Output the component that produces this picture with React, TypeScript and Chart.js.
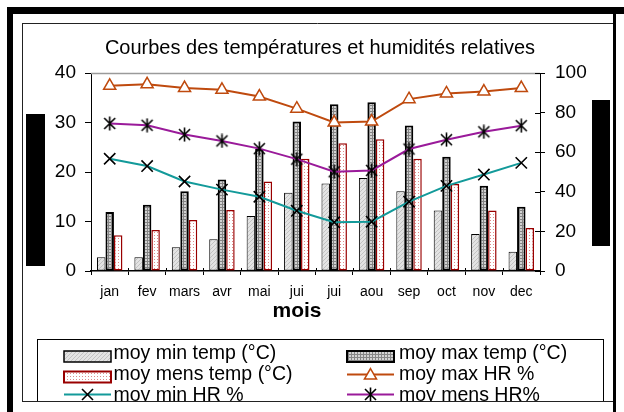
import React, { useEffect, useRef } from 'react';
import { Chart, registerables } from 'chart.js';
Chart.register(...registerables);

const titleText = 'Courbes des températures et humidités relatives';
const xTitle = 'mois';
const months = ['jan', 'fev', 'mars', 'avr', 'mai', 'jui', 'jui', 'aou', 'sep', 'oct', 'nov', 'dec'];
const minTemp = [2.8, 2.8, 4.8, 6.4, 11.1, 15.8, 17.7, 18.8, 16.1, 12.2, 7.5, 3.9];
const maxTemp = [11.9, 13.4, 16.1, 18.5, 24.7, 30.2, 33.7, 34.1, 29.4, 23.1, 17.2, 13.0];
const mensTemp = [7.2, 8.3, 10.3, 12.3, 18.1, 22.7, 25.8, 26.6, 22.7, 17.6, 12.2, 8.7];
const maxHR = [93.5, 94.3, 92.4, 91.5, 88.1, 82.0, 75.0, 75.5, 86.8, 89.7, 90.6, 92.4];
const minHR = [56.7, 53.0, 45.2, 41.1, 37.5, 30.4, 24.6, 24.9, 35.0, 43.0, 48.7, 54.6];
const mensHR = [74.5, 73.6, 68.9, 65.7, 61.8, 56.5, 50.1, 50.8, 61.6, 66.3, 70.3, 73.4];
const labels = ['moy min temp (°C)', 'moy max temp (°C)', 'moy mens temp (°C)', 'moy max HR %', 'moy min HR %', 'moy mens HR%'];

const FONT = '"Liberation Sans", Arial, sans-serif';
const ORANGE = '#bf4a0e';
const TEAL = '#139a9a';
const PURPLE = '#9a1a9a';
const DARKRED = '#990000';

function makePattern(size: number, draw: (g: CanvasRenderingContext2D) => void): CanvasPattern {
  const c = document.createElement('canvas');
  c.width = size; c.height = size;
  const g = c.getContext('2d') as CanvasRenderingContext2D;
  draw(g);
  return g.createPattern(c, 'repeat') as CanvasPattern;
}

function makeAsterisk(): HTMLCanvasElement {
  const c = document.createElement('canvas');
  c.width = 15; c.height = 15;
  const g = c.getContext('2d') as CanvasRenderingContext2D;
  g.strokeStyle = '#000';
  g.lineWidth = 1.6;
  g.beginPath();
  g.moveTo(2, 2); g.lineTo(13, 13);
  g.moveTo(13, 2); g.lineTo(2, 13);
  g.moveTo(7.5, 0.5); g.lineTo(7.5, 14.5);
  g.stroke();
  return c;
}

export default function App() {
  const ref = useRef<HTMLCanvasElement>(null);
  useEffect(() => {
    const canvas = ref.current;
    if (!canvas) return;
    const pMin = makePattern(4, (g) => {
      g.fillStyle = '#e3e3e3'; g.fillRect(0, 0, 4, 4);
      g.fillStyle = '#c2c2c2';
      for (let i = 0; i < 4; i++) g.fillRect(i, 3 - i, 1, 1);
    });
    const pMax = makePattern(3, (g) => {
      g.fillStyle = '#d2d2d2'; g.fillRect(0, 0, 3, 3);
      g.fillStyle = '#858585';
      g.fillRect(0, 0, 3, 1); g.fillRect(0, 0, 1, 3);
    });
    const pMens = makePattern(3, (g) => {
      g.fillStyle = '#ffffff'; g.fillRect(0, 0, 3, 3);
      g.fillStyle = '#e08a8a';
      g.fillRect(1, 1, 1, 1);
    });
    const asterisk = makeAsterisk();

    const line = (ctx: CanvasRenderingContext2D, x1: number, y1: number, x2: number, y2: number) => {
      ctx.beginPath(); ctx.moveTo(x1, y1); ctx.lineTo(x2, y2); ctx.stroke();
    };
    const tri = (ctx: CanvasRenderingContext2D, x: number, y: number, r: number) => {
      ctx.beginPath();
      for (let k = 0; k < 3; k++) {
        const a = (k * 2 * Math.PI) / 3;
        const px = x + Math.sin(a) * r, py = y - Math.cos(a) * r;
        if (k === 0) ctx.moveTo(px, py); else ctx.lineTo(px, py);
      }
      ctx.closePath();
      ctx.fillStyle = '#fff'; ctx.fill();
      ctx.strokeStyle = ORANGE; ctx.lineWidth = 1.5; ctx.stroke();
    };

    const deco = {
      id: 'deco',
      beforeDraw(chart: any) {
        const ctx = chart.ctx;
        ctx.save(); ctx.fillStyle = '#fff'; ctx.fillRect(0, 0, chart.width, chart.height); ctx.restore();
      },
      afterDraw(chart: any) {
        const ctx: CanvasRenderingContext2D = chart.ctx;
        const a = chart.chartArea;
        ctx.save();
        // plot area top border
        ctx.strokeStyle = '#9a9a9a'; ctx.lineWidth = 1.5;
        line(ctx, a.left, a.top + 0.5, a.right, a.top + 0.5);
        // inner ticks (x & right axis cross ticks)
        ctx.strokeStyle = '#000'; ctx.lineWidth = 1;
        const n = months.length;
        for (let i = 0; i <= n; i++) {
          const x = Math.round(a.left + (i * (a.right - a.left)) / n) + 0.5;
          line(ctx, x, a.bottom - 3, x, a.bottom);
        }
        const y1 = chart.scales.y1;
        y1.ticks.forEach((t: any) => {
          const y = Math.round(y1.getPixelForValue(t.value)) + 0.5;
          line(ctx, a.right - 5, y, a.right, y);
        });
        // title
        ctx.fillStyle = '#000';
        ctx.textAlign = 'center'; ctx.textBaseline = 'alphabetic';
        ctx.font = '20px ' + FONT;
        ctx.fillText(titleText, 320, 54);
        ctx.font = 'bold 21px ' + FONT;
        ctx.fillText(xTitle, 297, 317);
        // legend
        ctx.save();
        ctx.beginPath(); ctx.rect(37, 339, 567, 62.5); ctx.clip();
        ctx.textAlign = 'left';
        ctx.font = '19.5px ' + FONT;
        const c1 = 64, c2 = 347, sw = 47;
        const base = [358.5, 379.5, 400.5];
        // row 1
        ctx.fillStyle = pMin; ctx.fillRect(c1, 351, sw, 11);
        ctx.strokeStyle = '#000'; ctx.lineWidth = 1.5; ctx.strokeRect(c1, 351, sw, 11);
        ctx.fillStyle = pMax; ctx.fillRect(c2, 351, sw, 11);
        ctx.strokeStyle = '#000'; ctx.lineWidth = 2; ctx.strokeRect(c2, 351, sw, 11);
        // row 2
        ctx.fillStyle = pMens; ctx.fillRect(c1, 371.5, sw, 11);
        ctx.strokeStyle = DARKRED; ctx.lineWidth = 2; ctx.strokeRect(c1, 371.5, sw, 11);
        ctx.strokeStyle = ORANGE; ctx.lineWidth = 2; line(ctx, c2, 374.5, c2 + sw, 374.5);
        tri(ctx, c2 + sw / 2, 375.5, 7);
        // row 3
        ctx.strokeStyle = TEAL; ctx.lineWidth = 2; line(ctx, c1, 394.5, c1 + sw, 394.5);
        ctx.strokeStyle = '#000'; ctx.lineWidth = 1.6;
        const mx = c1 + sw / 2;
        line(ctx, mx - 5.5, 389, mx + 5.5, 400); line(ctx, mx + 5.5, 389, mx - 5.5, 400);
        ctx.strokeStyle = PURPLE; ctx.lineWidth = 2; line(ctx, c2, 394.5, c2 + sw, 394.5);
        ctx.drawImage(asterisk, c2 + sw / 2 - 7.5, 394.5 - 7.5);
        ctx.fillStyle = '#000';
        ctx.fillText(labels[0], 113.5, base[0]);
        ctx.fillText(labels[1], 399, base[0]);
        ctx.fillText(labels[2], 113.5, base[1]);
        ctx.fillText(labels[3], 399, base[1]);
        ctx.fillText(labels[4], 113.5, base[2]);
        ctx.fillText(labels[5], 399, base[2]);
        ctx.restore();
        ctx.strokeStyle = '#000'; ctx.lineWidth = 1;
        ctx.strokeRect(37.5, 339.5, 566, 62);
        // inner frame
        ctx.strokeStyle = '#222'; ctx.lineWidth = 1;
        line(ctx, 22.5, 23, 22.5, 402);
        line(ctx, 22, 23.5, 613, 23.5);
        line(ctx, 22, 401.5, 613, 401.5);
        // outer thick frame
        ctx.fillStyle = '#000';
        ctx.fillRect(7, 7, 6, 405);
        ctx.fillRect(7, 7, 617, 7);
        ctx.fillRect(613, 7, 3, 405);
        // black blocks
        ctx.fillRect(26, 114, 19, 152);
        ctx.fillRect(592, 100, 18, 146);
        ctx.restore();
      },
    };

    const chart = new Chart(canvas, {
      type: 'bar',
      data: {
        labels: months,
        datasets: [
          { type: 'bar', label: labels[0], data: minTemp, backgroundColor: pMin, borderColor: '#000', borderWidth: 1, borderSkipped: false, yAxisID: 'y', order: 2 },
          { type: 'bar', label: labels[1], data: maxTemp, backgroundColor: pMax, borderColor: '#000', borderWidth: 2, borderSkipped: false, yAxisID: 'y', order: 2 },
          { type: 'bar', label: labels[2], data: mensTemp, backgroundColor: pMens, borderColor: DARKRED, borderWidth: 1.5, borderSkipped: false, yAxisID: 'y', order: 2 },
          { type: 'line', label: labels[3], data: maxHR, borderColor: ORANGE, borderWidth: 2, tension: 0, pointStyle: 'triangle', pointRadius: 7, pointBackgroundColor: '#fff', pointBorderColor: ORANGE, pointBorderWidth: 1.5, yAxisID: 'y1', order: 1 },
          { type: 'line', label: labels[4], data: minHR, borderColor: TEAL, borderWidth: 2, tension: 0, pointStyle: 'crossRot', pointRadius: 8, pointBorderColor: '#000', pointBorderWidth: 1.6, yAxisID: 'y1', order: 1 },
          { type: 'line', label: labels[5], data: mensHR, borderColor: PURPLE, borderWidth: 2, tension: 0, pointStyle: asterisk, pointRadius: 7, pointBorderColor: '#000', yAxisID: 'y1', order: 1 },
        ] as any,
      },
      options: {
        responsive: false,
        animation: false,
        devicePixelRatio: 1,
        events: [],
        layout: { padding: { left: 51, right: 24, top: 73, bottom: 111 } },
        datasets: { bar: { categoryPercentage: 0.68, barPercentage: 1.0 } } as any,
        plugins: { legend: { display: false }, title: { display: false }, tooltip: { enabled: false } },
        scales: {
          x: {
            offset: true,
            grid: { offset: true, drawOnChartArea: false, drawTicks: true, tickLength: 4, color: '#000' },
            border: { display: true, color: '#000', width: 1.5 },
            ticks: { color: '#000', font: { family: FONT, size: 14 }, padding: 9, maxRotation: 0, autoSkip: false },
            afterFit: (s: any) => { s.height = 30; },
          },
          y: {
            position: 'left', min: 0, max: 40,
            grid: { drawOnChartArea: false, drawTicks: true, tickLength: 6, color: '#000' },
            border: { display: true, color: '#000', width: 1 },
            ticks: { stepSize: 10, color: '#000', font: { family: FONT, size: 19 }, padding: 9 },
            afterFit: (s: any) => { s.width = 40; },
          },
          y1: {
            position: 'right', min: 0, max: 100,
            grid: { drawOnChartArea: false, drawTicks: true, tickLength: 5, color: '#000' },
            border: { display: true, color: '#000', width: 1 },
            ticks: { stepSize: 20, color: '#000', font: { family: FONT, size: 19 }, padding: 10 },
            afterFit: (s: any) => { s.width = 60; },
          },
        } as any,
      },
      plugins: [deco],
    });
    return () => chart.destroy();
  }, []);

  return (
    <div style={{ position: 'fixed', left: 0, top: 0, width: 624, height: 412, background: '#fff' }}>
      <canvas ref={ref} width={624} height={412} style={{ display: 'block' }} />
    </div>
  );
}
